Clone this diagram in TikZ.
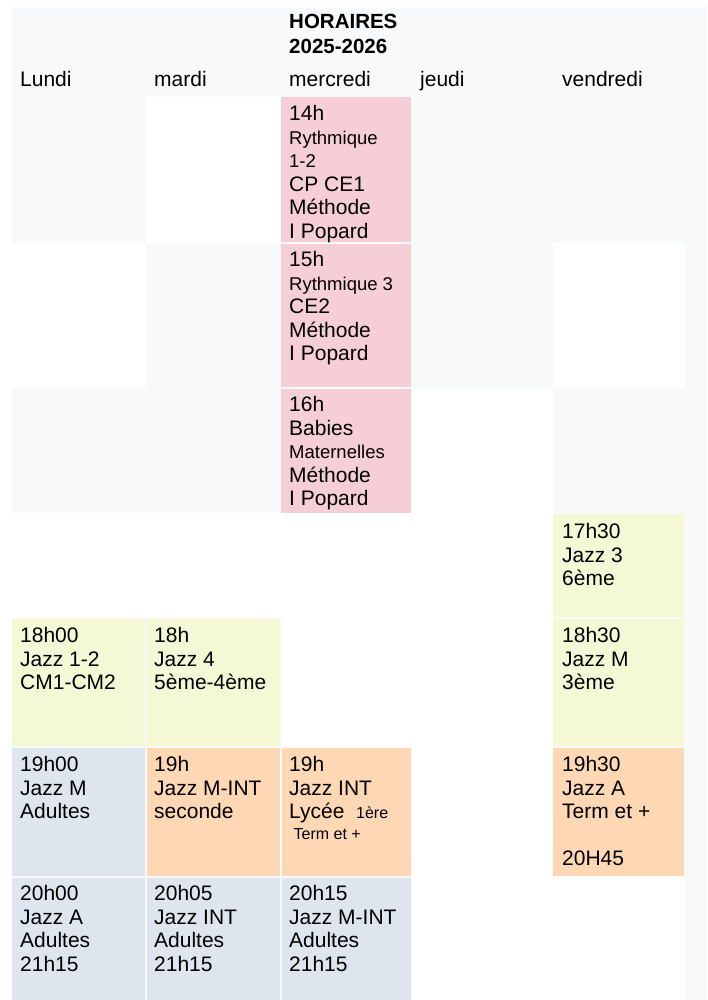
\documentclass[tikz,border=0pt]{standalone}
\usepackage{fontspec}
\setmainfont{Liberation Sans}
\definecolor{bgg}{HTML}{F8F9FB}
\definecolor{pinkc}{HTML}{F6CFD6}
\definecolor{yelc}{HTML}{F5F8D4}
\definecolor{bluec}{HTML}{DEE5EE}
\definecolor{orac}{HTML}{FED8B4}
\newcommand{\sm}[1]{{\fontsize{18.5}{21.5}\selectfont #1}}
\newcommand{\xs}[1]{{\fontsize{16}{21}\selectfont #1}}
\tikzset{cell/.style={anchor=north west,inner sep=0pt,align=left,font=\fontsize{21}{23.6}\selectfont,text depth=0pt},
 day/.style={anchor=base west,inner sep=0pt,font=\fontsize{21}{24}\selectfont}}
\begin{document}
\begin{tikzpicture}[x=1pt,y=-1pt]
\useasboundingbox (0,0) rectangle (707,1000);
\fill[white] (0,0) rectangle (707,1000);
\fill[bgg] (12,7) rectangle (707,1000);
% white cells
\fill[white] (146,97) rectangle (281,243);
\fill[white] (12,243) rectangle (146,388);
\fill[white] (553,243) rectangle (685,388);
\fill[white] (412,388) rectangle (553,513);
\fill[white] (12,513) rectangle (553,618);
\fill[white] (281,618) rectangle (553,747);
\fill[white] (412,747) rectangle (553,877);
\fill[white] (412,877) rectangle (685,1000);
% coloured cells
\fill[pinkc] (281,97) rectangle (411,242);
\fill[pinkc] (281,244) rectangle (411,387);
\fill[pinkc] (281,389) rectangle (411,513);
\fill[yelc] (553,514) rectangle (684,617);
\fill[yelc] (12,619) rectangle (145,746);
\fill[yelc] (147,619) rectangle (280,746);
\fill[yelc] (553,619) rectangle (684,746);
\fill[bluec] (12,748) rectangle (145,876);
\fill[orac] (147,748) rectangle (280,876);
\fill[orac] (282,748) rectangle (411,876);
\fill[orac] (553,748) rectangle (684,876);
\fill[bluec] (12,878) rectangle (145,1000);
\fill[bluec] (147,878) rectangle (280,1000);
\fill[bluec] (282,878) rectangle (411,1000);
% title and days
\node[anchor=north west,inner sep=0pt,align=left,font=\bfseries\fontsize{20.5}{25}\selectfont] (title) at (289,14) {HORAIRES\\2025-2026};
\node[day] (d1) at (20,87) {Lundi};
\node[day] (d2) at (154,87) {mardi};
\node[day] (d3) at (289,87) {mercredi};
\node[day] (d4) at (420,87) {jeudi};
\node[day] (d5) at (562,87) {vendredi};
% cells
\node[cell] (m1) at (289,105) {14h\\\sm{Rythmique}\\\sm{1-2}\\CP CE1\\Méthode\\I Popard};
\node[cell] (m2) at (289,251) {15h\\\sm{Rythmique 3}\\CE2\\Méthode\\I Popard};
\node[cell] (m3) at (289,396) {16h\\Babies\\\sm{Maternelles}\\Méthode\\I Popard};
\node[cell] (v1) at (562,523) {17h30\\Jazz 3\\6ème};
\node[cell] (l2) at (20,627) {18h00\\Jazz 1-2\\CM1-CM2};
\node[cell] (ma2) at (154,627) {18h\\Jazz 4\\5ème-4ème};
\node[cell] (v2) at (562,627) {18h30\\Jazz M\\3ème};
\node[cell] (l3) at (20,756) {19h00\\Jazz M\\Adultes};
\node[cell] (ma3) at (154,756) {19h\\Jazz M-INT\\seconde};
\node[cell] (me3) at (289,756) {19h\\Jazz INT\\Lycée \ \xs{1ère}\\[-3pt]\xs{\ Term et +}};
\node[cell] (v3) at (562,756) {19h30\\Jazz A\\Term et +\\[23.6pt]20H45};
\node[cell] (l4) at (20,885) {20h00\\Jazz A\\Adultes\\21h15};
\node[cell] (ma4) at (154,885) {20h05\\Jazz INT\\Adultes\\21h15};
\node[cell] (me4) at (289,885) {20h15\\Jazz M-INT\\Adultes\\21h15};
\end{tikzpicture}
\end{document}
